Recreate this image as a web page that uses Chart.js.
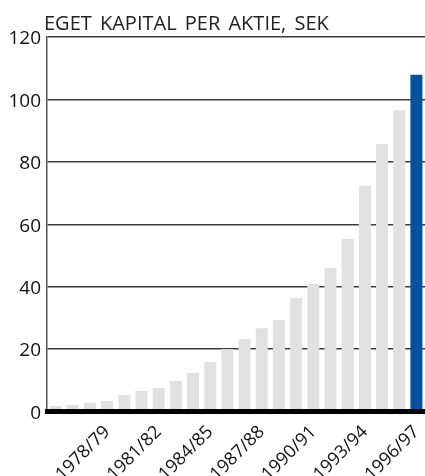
<!DOCTYPE html>
<html>
<head>
<meta charset="utf-8">
<title>Eget kapital per aktie</title>
<script src="https://cdn.jsdelivr.net/npm/chart.js@4/dist/chart.umd.min.js"></script>
<style>
    html, body { margin: 0; padding: 0; background: #fff; }
    #wrap { position: relative; width: 425px; height: 476px; }
</style>
</head>
<body>
<div id="wrap"><canvas id="chart"></canvas></div>
<script>
    // equity per share, SEK, fiscal years 1975/76 - 1996/97
    var years = ['1975/76', '1976/77', '1977/78', '1978/79', '1979/80', '1980/81', '1981/82',
        '1982/83', '1983/84', '1984/85', '1985/86', '1986/87', '1987/88', '1988/89',
        '1989/90', '1990/91', '1991/92', '1992/93', '1993/94', '1994/95', '1995/96', '1996/97'];
    var equityPerShare = [1.8, 2.1, 2.8, 3.4, 5.3, 6.6, 7.5, 9.8, 12.3, 15.9, 20.0, 23.2,
        26.7, 29.3, 36.4, 40.9, 46.0, 55.3, 72.3, 85.7, 96.5, 107.9];
    var yTicks = [0, 20, 40, 60, 80, 100, 120];
    var titleText = 'EGET KAPITAL PER AKTIE, SEK';

    (function () {
        'use strict';

        var FONT = "'Open Sans', 'Noto Sans', sans-serif";
        var GRAY = '#e1e1e1';
        var BLUE = '#02529c';

        // latest year is highlighted
        var barColors = equityPerShare.map(function (v, i) {
            return i === equityPerShare.length - 1 ? BLUE : GRAY;
        });

        var titlePlugin = {
            id: 'cornerTitle',
            afterDraw: function (chart) {
                var ctx = chart.ctx;
                var area = chart.chartArea;
                ctx.save();
                ctx.font = '20px ' + FONT;
                ctx.wordSpacing = '3px';
                ctx.fillStyle = '#222';
                ctx.textAlign = 'left';
                ctx.textBaseline = 'alphabetic';
                ctx.fillText(titleText, area.left - 3, area.top - 7);
                ctx.restore();
            }
        };

        var ctx = document.getElementById('chart').getContext('2d');
        new Chart(ctx, {
            type: 'bar',
            data: {
                labels: years,
                datasets: [{
                    data: equityPerShare,
                    backgroundColor: barColors,
                    borderWidth: 0,
                    barPercentage: 0.7,
                    categoryPercentage: 1
                }]
            },
            options: {
                responsive: true,
                maintainAspectRatio: false,
                animation: false,
                layout: { padding: { top: 37, left: 0, right: 0, bottom: 0 } },
                plugins: {
                    legend: { display: false },
                    tooltip: { enabled: false }
                },
                scales: {
                    x: {
                        grid: { display: false },
                        // thick base line sits on top of the bars
                        border: { display: true, width: 5, color: '#000', z: 1 },
                        afterFit: function (scale) {
                            scale.height = 64.5;
                            scale.paddingLeft = 0;
                            scale.paddingRight = 0;
                        },
                        ticks: {
                            autoSkip: false,
                            minRotation: 45,
                            maxRotation: 45,
                            padding: 2,
                            color: '#111',
                            font: { family: FONT, size: 18 },
                            // every third season gets a label
                            callback: function (value, index) {
                                return (index > 0 && index % 3 === 0) ? years[index] : '';
                            }
                        }
                    },
                    y: {
                        min: 0,
                        max: 120,
                        afterBuildTicks: function (scale) {
                            scale.ticks = yTicks.map(function (v) { return { value: v }; });
                        },
                        afterFit: function (scale) {
                            scale.width = 47;
                            scale.paddingTop = 0;
                        },
                        grid: {
                            color: '#3a3a3a',
                            lineWidth: 1.5,
                            drawTicks: false
                        },
                        border: { display: true, width: 1.5, color: '#555' },
                        ticks: {
                            padding: 6,
                            labelOffset: 2,
                            color: '#111',
                            font: { family: FONT, size: 19 }
                        }
                    }
                }
            },
            plugins: [titlePlugin]
        });
    })();
</script>
</body>
</html>
